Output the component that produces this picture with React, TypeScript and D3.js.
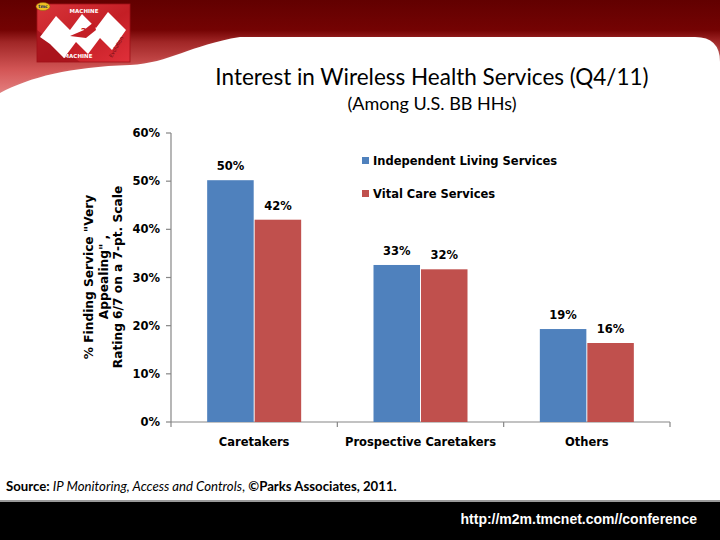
import React from "react";
import * as d3 from "d3";

const categories = ["Caretakers", "Prospective Caretakers", "Others"];
const seriesNames = ["Independent Living Services", "Vital Care Services"];
const independentLiving = [50.2, 32.6, 19.3];
const vitalCare = [42.0, 31.7, 16.4];
const valueLabels = [
  ["50%", "33%", "19%"],
  ["42%", "32%", "16%"],
];
const yTicks = [0, 10, 20, 30, 40, 50, 60];
const colors = ["#4f81bd", "#c0504d"];
const yTitleLines = ['% Finding Service "Very', 'Appealing" ,', "Rating 6/7 on a 7-pt. Scale"];

const W = 720;
const H = 540;
const plot = { left: 171, right: 670, top: 133, bottom: 422 };
const chartFont = "'DejaVu Sans', Verdana, sans-serif";
const titleFont = "Lato, 'Open Sans', sans-serif";

export default function App() {
  const x = d3.scaleBand<string>().domain(categories).range([plot.left, plot.right]);
  const groupW = 94;
  const inner = d3.scaleBand<string>().domain(seriesNames).range([0, groupW]).paddingInner(0.02);
  const y = d3.scaleLinear().domain([0, 60]).range([plot.bottom, plot.top]);
  const series = [independentLiving, vitalCare];
  const boundaries = [plot.left, ...categories.map((c) => (x(c) as number) + x.bandwidth())];

  return (
    <svg width={W} height={H} style={{ position: "absolute", left: 0, top: 0, display: "block" }}>
      <defs>
        <linearGradient id="hdr" x1="0" y1="0" x2="0" y2="1">
          <stop offset="0" stopColor="#620000" />
          <stop offset="0.3" stopColor="#740303" />
          <stop offset="0.42" stopColor="#a02626" />
          <stop offset="0.7" stopColor="#d35656" />
          <stop offset="1" stopColor="#ea8a8a" />
        </linearGradient>
        <linearGradient id="logo" x1="0" y1="0" x2="1" y2="1">
          <stop offset="0" stopColor="#d8353a" />
          <stop offset="0.55" stopColor="#c41e25" />
          <stop offset="1" stopColor="#e0303a" />
        </linearGradient>
        <filter id="sh" x="-0.1" y="-0.1" width="1.2" height="1.3">
          <feGaussianBlur stdDeviation="2" />
        </filter>
      </defs>
      <rect x={0} y={0} width={W} height={H} fill="#ffffff" />
      <rect x={0} y={0} width={W} height={100} fill="url(#hdr)" />
      <path
        d="M0,95 C30,79 70,69 130,67 C170,65 190,48 240,40 L695,40 Q720,40 720,64 L720,120 L0,120 Z"
        fill="#b8a0a0"
        filter="url(#sh)"
        opacity={0.7}
      />
      <path
        d="M0,93 C30,77 70,67 130,65 C170,63 190,45 240,37 L695,37 Q720,37 720,62 L720,540 L0,540 Z"
        fill="#ffffff"
      />

      {/* logo */}
      <g>
        <rect x={37} y={4} width={93} height={58} fill="url(#logo)" stroke="#a01018" strokeWidth={0.8} />
        <path d="M37,62 L37,30 L80,62 Z" fill="#9e1018" opacity={0.7} />
        <path
          d="M40,37 L56,16 L70,30 L82,14 L96,28 L108,12 L126,30 L112,50 L100,38 L88,54 L76,42 L64,58 L50,44 Z"
          fill="#ffffff"
        />
        <path d="M70,36 L84,30 L94,22 L96,30 L86,38 Z" fill="#c41e25" />
        <text x={84} y={35} fontFamily="'DejaVu Sans', sans-serif" fontWeight="bold" fontSize={9} fill="#c41e25" textAnchor="middle">2</text>
        <text x={84} y={13} fontFamily="'DejaVu Sans', sans-serif" fontWeight="bold" fontSize={5.5} fill="#ffffff" textAnchor="middle">MACHINE</text>
        <text x={78} y={58} fontFamily="'DejaVu Sans', sans-serif" fontWeight="bold" fontSize={5.5} fill="#ffffff" textAnchor="middle">MACHINE</text>
        <text x={0} y={0} transform="translate(112,58) rotate(-60)" fontFamily="'DejaVu Sans', sans-serif" fontSize={5} fill="#6a0a10">Evolution</text>
        <ellipse cx={43} cy={6.5} rx={7} ry={4} fill="#f0c020" stroke="#806010" strokeWidth={0.5} />
        <text x={43} y={8.3} fontFamily="'DejaVu Sans', sans-serif" fontWeight="bold" fontSize={4.5} fill="#203060" textAnchor="middle">tmc</text>
      </g>

      {/* titles */}
      <text x={432} y={85} textAnchor="middle" fontFamily={titleFont} fontSize={22.5} fill="#000">
        Interest in Wireless Health Services (Q4/11)
      </text>
      <text x={432} y={110} textAnchor="middle" fontFamily={titleFont} fontSize={18} fill="#000">
        (Among U.S. BB HHs)
      </text>

      {/* axes */}
      <line x1={plot.left} x2={plot.left} y1={plot.top} y2={plot.bottom} stroke="#868686" strokeWidth={1.2} />
      {yTicks.map((t) => (
        <g key={t}>
          <line x1={plot.left - 5} x2={plot.left} y1={y(t)} y2={y(t)} stroke="#868686" strokeWidth={1.2} />
          <text
            x={plot.left - 11}
            y={y(t) + 4}
            textAnchor="end"
            fontFamily={chartFont}
            fontWeight="bold"
            fontSize={11.5}
            fill="#000"
          >
            {t}%
          </text>
        </g>
      ))}
      <line x1={plot.left} x2={plot.right} y1={plot.bottom} y2={plot.bottom} stroke="#868686" strokeWidth={1.2} />
      {boundaries.map((b, i) => (
        <line key={i} x1={b} x2={b} y1={plot.bottom} y2={plot.bottom + 5} stroke="#868686" strokeWidth={1.2} />
      ))}

      {/* bars */}
      {categories.map((c, ci) => {
        const gx = (x(c) as number) + (x.bandwidth() - groupW) / 2;
        return (
          <g key={c}>
            {series.map((s, si) => {
              const bx = gx + (inner(seriesNames[si]) as number);
              const bw = inner.bandwidth();
              return (
                <g key={si}>
                  <rect x={bx} y={y(s[ci])} width={bw} height={plot.bottom - y(s[ci])} fill={colors[si]} />
                  <text
                    x={bx + bw / 2}
                    y={y(s[ci]) - 10}
                    textAnchor="middle"
                    fontFamily={chartFont}
                    fontWeight="bold"
                    fontSize={11.5}
                    fill="#000"
                  >
                    {valueLabels[si][ci]}
                  </text>
                </g>
              );
            })}
            <text
              x={(x(c) as number) + x.bandwidth() / 2}
              y={446}
              textAnchor="middle"
              fontFamily={chartFont}
              fontWeight="bold"
              fontSize={11.5}
              fill="#000"
            >
              {c}
            </text>
          </g>
        );
      })}

      {/* legend */}
      {seriesNames.map((n, i) => (
        <g key={n}>
          <rect x={362} y={157 + i * 33} width={7} height={7} fill={colors[i]} />
          <text x={373} y={165 + i * 33} fontFamily={chartFont} fontWeight="bold" fontSize={11.5} fill="#000">
            {n}
          </text>
        </g>
      ))}

      {/* y axis title */}
      <g transform="translate(103,277) rotate(-90)">
        {yTitleLines.map((l, i) => (
          <text
            key={i}
            x={0}
            y={(i - 1) * 14.5 + 4.5}
            textAnchor="middle"
            fontFamily={chartFont}
            fontWeight="bold"
            fontSize={12.2}
            fill="#000"
          >
            {l}
          </text>
        ))}
      </g>

      {/* source */}
      <text x={6} y={491} fontFamily={titleFont} fontSize={13.2} fill="#000">
        <tspan fontWeight="bold">Source: </tspan>
        <tspan fontStyle="italic">IP Monitoring, Access and Controls</tspan>
        <tspan>, </tspan>
        <tspan fontWeight="bold">©Parks Associates, 2011.</tspan>
      </text>

      {/* footer */}
      <rect x={0} y={500} width={W} height={2} fill="#9a9a9a" />
      <rect x={0} y={502} width={W} height={38} fill="#000000" />
      <text
        x={697}
        y={524}
        textAnchor="end"
        fontFamily="'Liberation Sans', Arial, sans-serif"
        fontWeight="bold"
        fontSize={14}
        fill="#ffffff"
      >
        http://m2m.tmcnet.com//conference
      </text>
    </svg>
  );
}
